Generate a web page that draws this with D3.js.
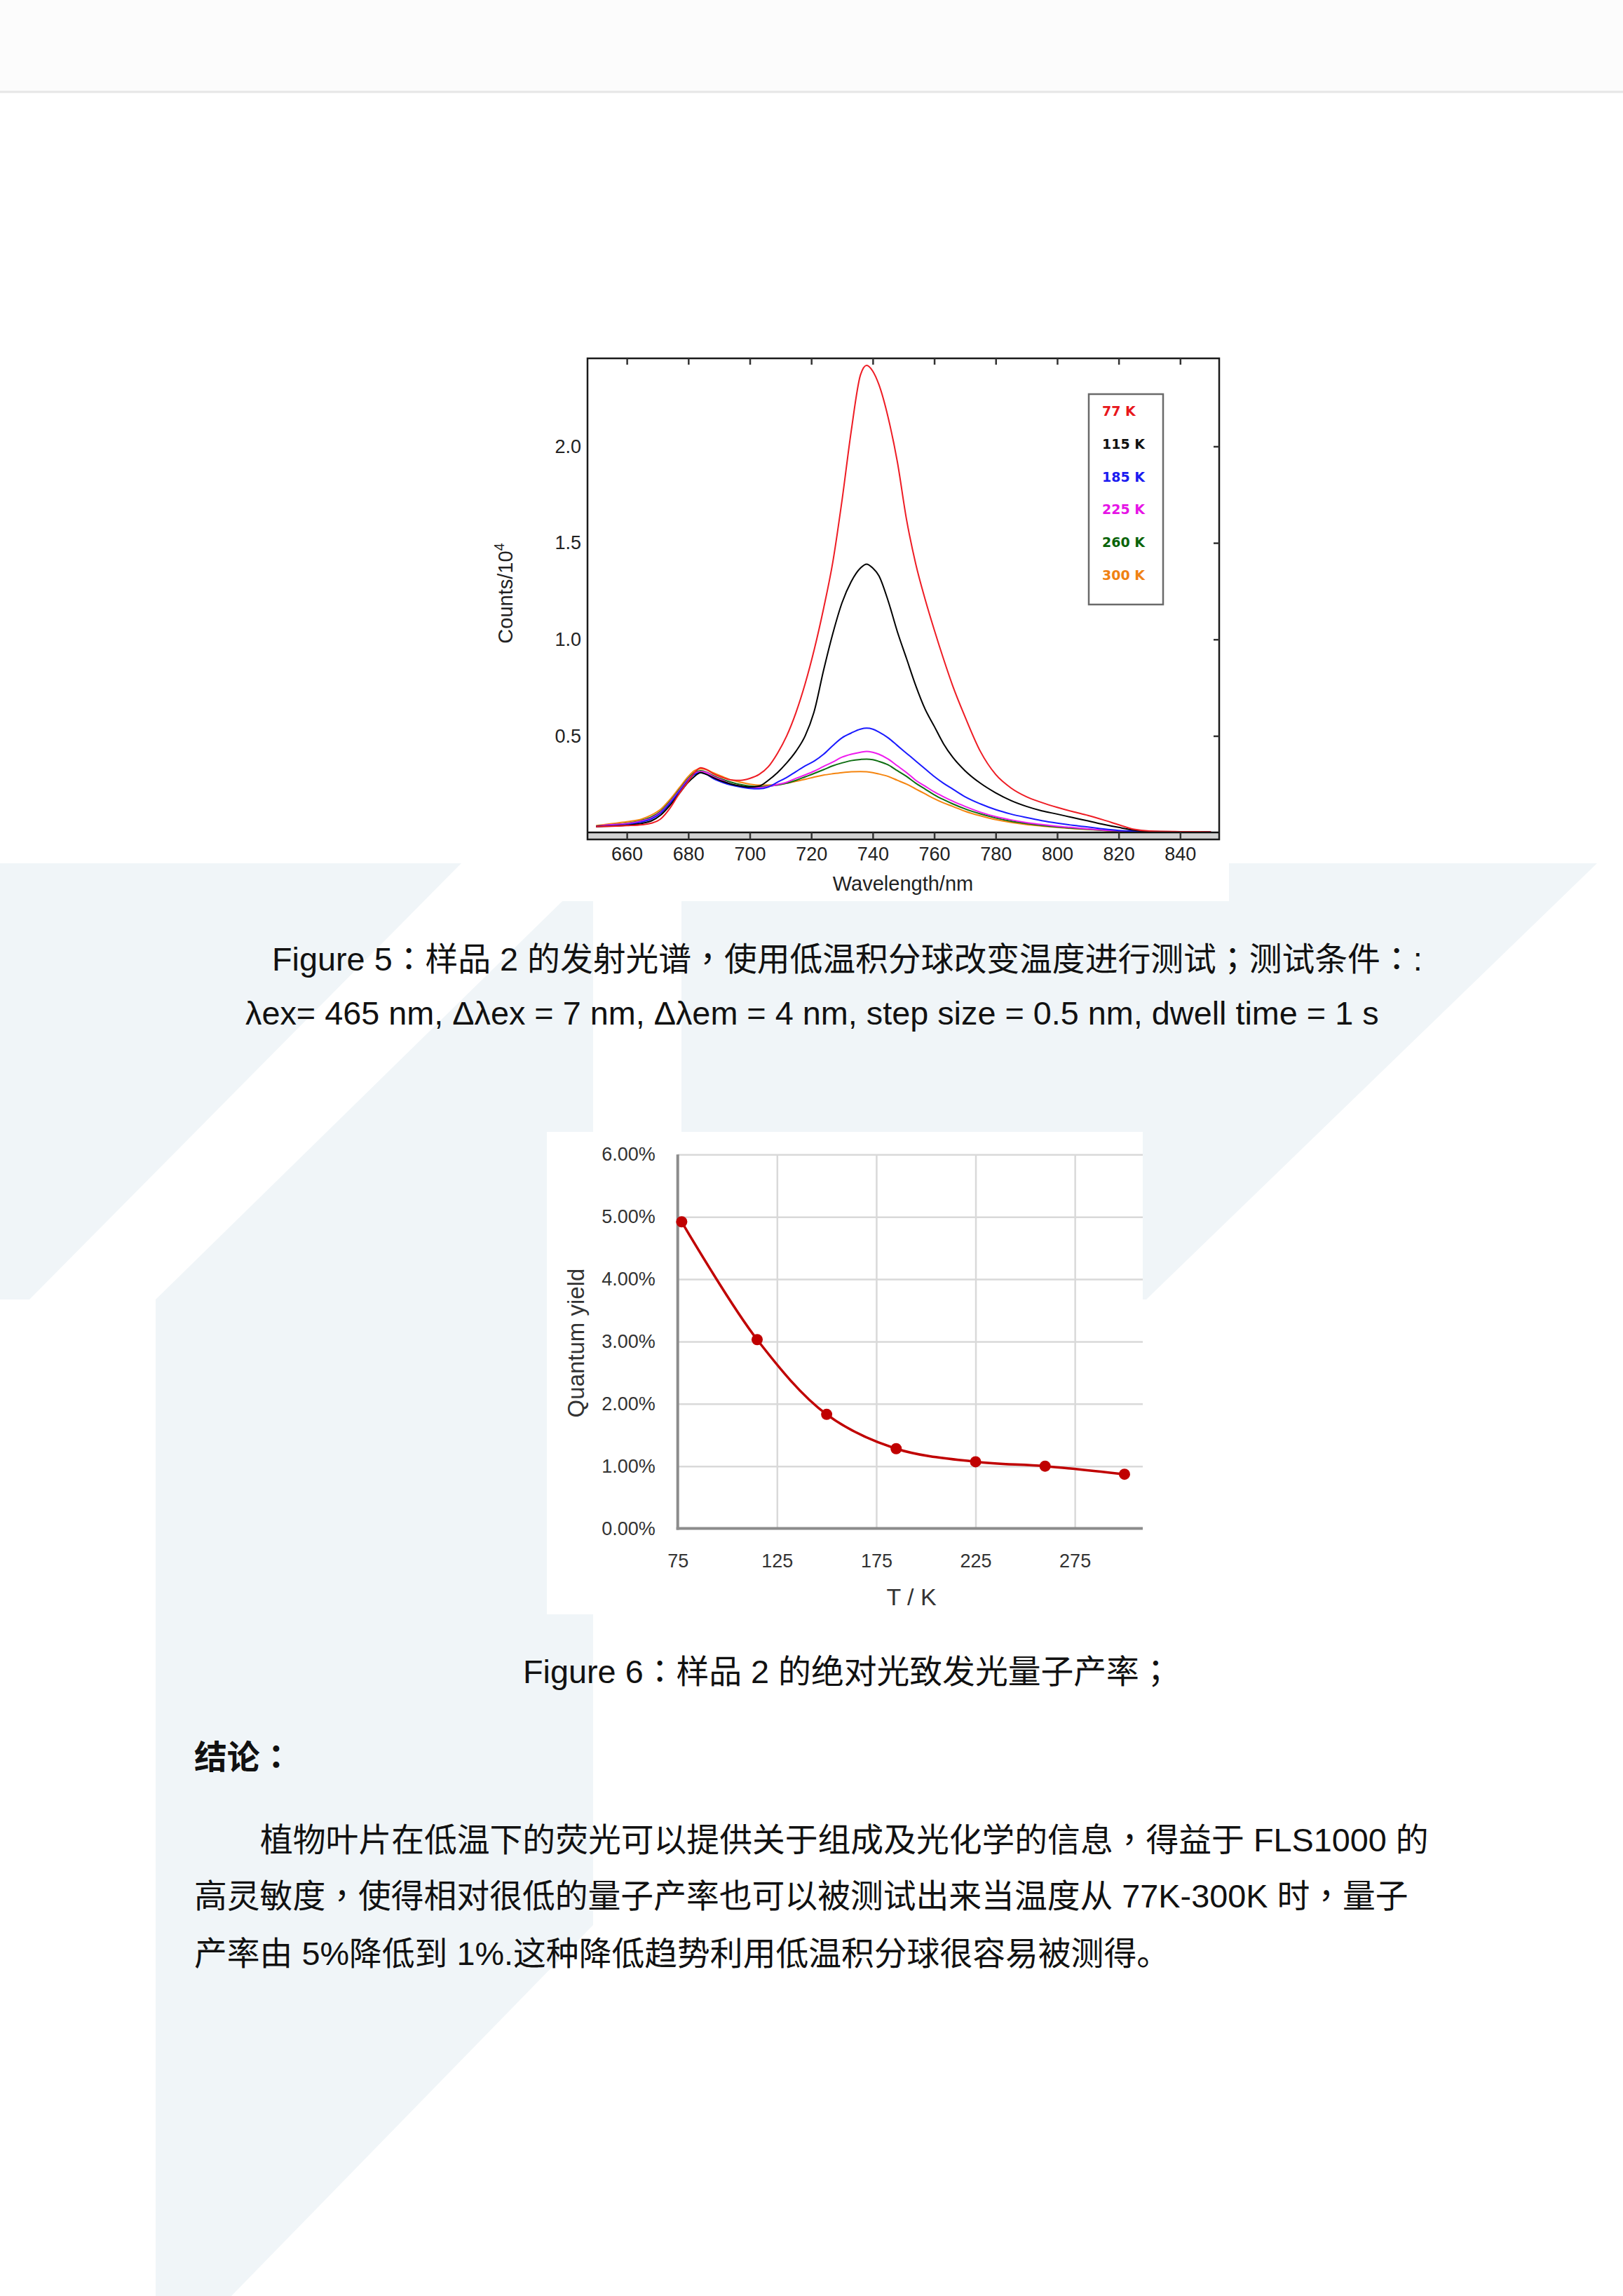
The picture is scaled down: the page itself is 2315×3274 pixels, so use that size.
<!DOCTYPE html>
<meta charset="utf-8">
<style>

body {
  margin: 0;
  background: #fff;
}

text {
  font-family: "Liberation Sans", Arial, "Noto Sans CJK SC", sans-serif;
}

.spectrum-line {
  fill: none;
  stroke-width: 2;
  stroke-linejoin: round;
}

.caption {
  font-size: 46.8px;
  fill: #111;
}

.punct {
  font-family: "Noto Sans CJK TC", "Noto Sans CJK SC", sans-serif;
}

</style>
<body>
</body>
<script src="https://d3js.org/d3.v7.min.js"></script>
<script>

// emission spectra, counts / 10^4
var wavelengths = [650, 655, 660, 665, 668, 671, 674, 677, 680, 682,
                   684, 686, 688, 691, 694, 697, 700, 703, 706, 709,
                   712, 715, 718, 721, 724, 727, 730, 733, 736, 738,
                   740, 742, 745, 748, 751, 754, 757, 760, 763, 766,
                   770, 775, 780, 785, 790, 795, 800, 805, 810, 815,
                   820, 825, 830, 840, 850];

var counts77 = [.03, .032, .035, .04, .048, .07, .125, .2, .265, .31,
                .335, .325, .305, .285, .272, .27, .28, .3, .34, .41,
                .5, .62, .77, .95, 1.16, 1.4, 1.72, 2.08, 2.37, 2.42,
                2.39, 2.32, 2.15, 1.92, 1.62, 1.39, 1.21, 1.05, .9, .76,
                .6, .42, .3, .23, .185, .155, .13, .108, .088, .065,
                .04, .016, .007, .004, .003];

var counts115 = [.03, .033, .037, .047, .06, .09, .14, .2, .26, .29,
                 .31, .3, .285, .265, .25, .24, .235, .24, .27, .31,
                 .36, .42, .5, .63, .84, 1.03, 1.19, 1.3, 1.37, 1.39,
                 1.37, 1.33, 1.2, 1.04, .9, .76, .64, .55, .46, .39,
                 .32, .255, .205, .165, .135, .112, .095, .077, .06, .042,
                 .026, .012, .005, .003, .002];

var counts185 = [.03, .035, .04, .055, .07, .1, .15, .21, .27, .3,
                 .31, .3, .28, .26, .245, .235, .228, .226, .235, .26,
                 .285, .315, .345, .37, .405, .45, .49, .515, .535, .54,
                 .535, .52, .49, .45, .41, .37, .33, .29, .255, .225,
                 .185, .148, .118, .095, .077, .061, .048, .037, .028, .018,
                 .01, .006, .004, .003, .002];

var counts225 = [.032, .04, .045, .06, .075, .105, .155, .215, .275, .305,
                 .315, .31, .29, .27, .25, .24, .232, .232, .238, .248,
                 .26, .28, .298, .318, .342, .365, .39, .405, .415, .42,
                 .415, .405, .38, .345, .31, .27, .24, .21, .185, .162,
                 .135, .105, .082, .065, .051, .041, .032, .025, .018, .012,
                 .008, .005, .004, .003, .002];

var counts260 = [.033, .04, .047, .063, .08, .11, .16, .22, .28, .31,
                 .32, .312, .295, .275, .26, .248, .24, .237, .24, .245,
                 .255, .27, .288, .306, .325, .345, .36, .372, .378, .38,
                 .377, .368, .35, .32, .29, .255, .225, .195, .17, .148,
                 .122, .096, .075, .058, .046, .036, .028, .022, .016, .011,
                 .007, .005, .004, .003, .002];

var counts300 = [.035, .045, .055, .07, .09, .12, .17, .23, .29, .32,
                 .33, .325, .31, .29, .272, .26, .25, .245, .245, .248,
                 .255, .265, .275, .287, .297, .304, .31, .314, .315, .314,
                 .31, .303, .29, .27, .25, .225, .2, .175, .153, .135,
                 .11, .086, .066, .052, .041, .033, .026, .02, .015, .01,
                 .007, .005, .004, .003, .002];

var seriesLabels = ["77 K", "115 K", "185 K", "225 K", "260 K", "300 K"];
var spectrumTicksX = [660, 680, 700, 720, 740, 760, 780, 800, 820, 840];
var spectrumTicksY = [0.5, 1.0, 1.5, 2.0];

// quantum yield vs temperature, %
var yieldTemps = [77, 115, 150, 185, 225, 260, 300];
var yieldValues = [4.92, 3.03, 1.83, 1.28, 1.07, 1.00, 0.87];
var yieldTicksX = [75, 125, 175, 225, 275];
var yieldTicksY = [0, 1, 2, 3, 4, 5, 6];

var seriesColors = ["#ee1c24", "#000000", "#1a1aff", "#ee1cee", "#0e6e12", "#f5850f"];
var legendColors = ["#e8161b", "#111111", "#1c1cf0", "#e614e6", "#0a640a", "#f08214"];

var width = 2315,
    height = 3274;

var svg = d3.select("body").append("svg")
    .attr("width", width)
    .attr("height", height);

// page background and watermark
svg.append("rect").attr("width", width).attr("height", height).attr("fill", "#fff");
svg.append("rect").attr("width", width).attr("height", 131).attr("fill", "#fcfcfc");
svg.append("line")
    .attr("x1", 0).attr("x2", width).attr("y1", 131).attr("y2", 131)
    .attr("stroke", "#e6e6e6").attr("stroke-width", 3);

var shapes = [
  [[0, 1231], [658, 1231], [42, 1853], [0, 1853]],
  [[846, 1242], [846, 2745], [330, 3274], [222, 3274], [222, 1853]],
  [[972, 1231], [2278, 1231], [1635, 1853], [972, 1853]]
];
svg.selectAll("polygon.mark")
    .data(shapes)
  .enter().append("polygon")
    .attr("points", function(d) { return d.join(" "); })
    .attr("fill", "#f0f5f8");

// white boxes behind the two figures
svg.append("rect").attr("x", 690).attr("y", 470).attr("width", 1063).attr("height", 815).attr("fill", "#fff");
svg.append("rect").attr("x", 780).attr("y", 1614).attr("width", 850).attr("height", 688).attr("fill", "#fff");

/*
 * Figure 5: emission spectra
 */
var x1 = d3.scaleLinear().domain([647.2, 852.7]).range([838, 1739]);
var y1 = d3.scaleLinear().domain([0, 2.456]).range([1187, 511]);

var g1 = svg.append("g");

var seriesValues = [counts77, counts115, counts185, counts225, counts260, counts300];

var line1 = d3.line()
    .x(function(d) { return x1(d[0]); })
    .y(function(d) { return y1(d[1]); })
    .curve(d3.curveMonotoneX);

// draw warm last so 77 K sits on top
var order = [5, 4, 3, 2, 1, 0];
g1.selectAll("path.spectrum-line")
    .data(order)
  .enter().append("path")
    .classed("spectrum-line", true)
    .attr("stroke", function(i) { return seriesColors[i]; })
    .attr("d", function(i) {
      return line1(wavelengths.map(function(w, k) { return [w, seriesValues[i][k]]; }));
    });

// band under the zero line
g1.append("rect")
    .attr("x", 838).attr("y", 1187).attr("width", 901).attr("height", 10)
    .attr("fill", "#d2d2d2");
g1.append("line")
    .attr("x1", 838).attr("x2", 1739).attr("y1", 1187).attr("y2", 1187)
    .attr("stroke", "#111").attr("stroke-width", 2.5);

g1.append("rect")
    .attr("x", 838).attr("y", 511).attr("width", 901).attr("height", 686)
    .attr("fill", "none").attr("stroke", "#1a1a1a").attr("stroke-width", 2.5);

var xAxis1 = g1.append("g")
    .attr("transform", "translate(0,1187)")
    .call(d3.axisBottom(x1).tickValues(spectrumTicksX).tickSize(10).tickPadding(11));
xAxis1.select(".domain").remove();
xAxis1.selectAll("line").attr("stroke", "#333").attr("stroke-width", 2.5);
xAxis1.selectAll("text").attr("font-size", 27).attr("fill", "#222")
    .style("font-family", "'Liberation Sans', Arial, sans-serif");

var topAxis1 = g1.append("g")
    .attr("transform", "translate(0,511)")
    .call(d3.axisTop(x1).tickValues(spectrumTicksX).tickSize(-9).tickFormat(""));
topAxis1.select(".domain").remove();
topAxis1.selectAll("line").attr("stroke", "#333").attr("stroke-width", 2.5);

var yAxis1 = g1.append("g")
    .attr("transform", "translate(838,0)")
    .call(d3.axisLeft(y1).tickValues(spectrumTicksY).tickSize(0).tickPadding(9)
      .tickFormat(d3.format(".1f")));
yAxis1.select(".domain").remove();
yAxis1.selectAll("text").attr("font-size", 27).attr("fill", "#222")
    .style("font-family", "'Liberation Sans', Arial, sans-serif");

var rightAxis1 = g1.append("g")
    .attr("transform", "translate(1739,0)")
    .call(d3.axisRight(y1).tickValues(spectrumTicksY).tickSize(-8).tickFormat(""));
rightAxis1.select(".domain").remove();
rightAxis1.selectAll("line").attr("stroke", "#333").attr("stroke-width", 2.5);

g1.append("text")
    .attr("x", 1288).attr("y", 1270)
    .attr("text-anchor", "middle")
    .attr("font-size", 29).attr("fill", "#222")
    .text("Wavelength/nm");

var ylab = g1.append("text")
    .attr("transform", "translate(731,846) rotate(-90)")
    .attr("text-anchor", "middle")
    .attr("font-size", 29).attr("fill", "#222");
ylab.append("tspan").text("Counts/10");
ylab.append("tspan").attr("font-size", 20).attr("dy", -12).text("4");

// legend
g1.append("rect")
    .attr("x", 1553).attr("y", 562).attr("width", 106).attr("height", 300)
    .attr("fill", "#fff").attr("stroke", "#6a6a6a").attr("stroke-width", 2.5);

g1.selectAll("text.legend")
    .data(seriesLabels)
  .enter().append("text")
    .attr("x", 1572)
    .attr("y", function(d, i) { return 593 + i * 46.8; })
    .attr("fill", function(d, i) { return legendColors[i]; })
    .style("font-family", "'DejaVu Sans', Verdana, sans-serif")
    .attr("font-weight", "bold")
    .attr("font-size", 19)
    .text(function(d) { return d; });

/*
 * Figure 6: quantum yield
 */
var x2 = d3.scaleLinear().domain([75, 309.2]).range([966.7, 1630]);
var y2 = d3.scaleLinear().domain([0, 6]).range([2179.5, 1646.3]);

var g2 = svg.append("g");

var hGrid = g2.append("g")
    .attr("transform", "translate(966.7,0)")
    .call(d3.axisLeft(y2).tickValues(yieldTicksY.slice(1)).tickSize(-(1630 - 966.7)).tickFormat(""));
hGrid.select(".domain").remove();
hGrid.selectAll("line").attr("stroke", "#d9d9d9").attr("stroke-width", 2.5);

var vGrid = g2.append("g")
    .attr("transform", "translate(0,2179.5)")
    .call(d3.axisBottom(x2).tickValues(yieldTicksX.slice(1)).tickSize(-(2179.5 - 1646.3)).tickFormat(""));
vGrid.select(".domain").remove();
vGrid.selectAll("line").attr("stroke", "#d9d9d9").attr("stroke-width", 2.5);

g2.append("line")
    .attr("x1", 966.7).attr("x2", 966.7).attr("y1", 1646.3).attr("y2", 2181.5)
    .attr("stroke", "#8c8c8c").attr("stroke-width", 4);
g2.append("line")
    .attr("x1", 964.7).attr("x2", 1630).attr("y1", 2179.5).attr("y2", 2179.5)
    .attr("stroke", "#8c8c8c").attr("stroke-width", 4);

var yAxis2 = g2.append("g")
    .attr("transform", "translate(966.7,0)")
    .call(d3.axisLeft(y2).tickValues(yieldTicksY).tickSize(0).tickPadding(32)
      .tickFormat(function(d) { return d.toFixed(2) + "%"; }));
yAxis2.select(".domain").remove();
yAxis2.selectAll("text").attr("font-size", 27).attr("fill", "#333")
    .style("font-family", "'Liberation Sans', Arial, sans-serif");

var xAxis2 = g2.append("g")
    .attr("transform", "translate(0,2179.5)")
    .call(d3.axisBottom(x2).tickValues(yieldTicksX).tickSize(0).tickPadding(36));
xAxis2.select(".domain").remove();
xAxis2.selectAll("text").attr("font-size", 27).attr("fill", "#333")
    .style("font-family", "'Liberation Sans', Arial, sans-serif");

var line2 = d3.line()
    .x(function(d) { return x2(d[0]); })
    .y(function(d) { return y2(d[1]); })
    .curve(d3.curveCatmullRom.alpha(0.5));

var yieldPoints = yieldTemps.map(function(t, i) { return [t, yieldValues[i]]; });

g2.append("path")
    .attr("d", line2(yieldPoints))
    .attr("fill", "none")
    .attr("stroke", "#c00000")
    .attr("stroke-width", 3.5);

g2.selectAll("circle")
    .data(yieldPoints)
  .enter().append("circle")
    .attr("cx", function(d) { return x2(d[0]); })
    .attr("cy", function(d) { return y2(d[1]); })
    .attr("r", 8)
    .attr("fill", "#c00000");

g2.append("text")
    .attr("transform", "translate(833,1915) rotate(-90)")
    .attr("text-anchor", "middle")
    .attr("font-size", 33).attr("fill", "#333")
    .text("Quantum yield");

g2.append("text")
    .attr("x", 1300).attr("y", 2289)
    .attr("text-anchor", "middle")
    .attr("font-size", 34).attr("fill", "#333")
    .text("T / K");

/*
 * captions and body text
 */
var lines = [
  {x: 388, y: 1384, t: "Figure 5：样品 2 的发射光谱，使用低温积分球改变温度进行测试；测试条件：:"},
  {x: 350, y: 1461, t: "λex= 465 nm, Δλex = 7 nm, Δλem = 4 nm, step size = 0.5 nm, dwell time = 1 s"},
  {x: 746, y: 2400, t: "Figure 6：样品 2 的绝对光致发光量子产率；"},
  {x: 277, y: 2522, t: "结论：", bold: true},
  {x: 371, y: 2640, t: "植物叶片在低温下的荧光可以提供关于组成及光化学的信息，得益于 FLS1000 的"},
  {x: 277, y: 2720, t: "高灵敏度，使得相对很低的量子产率也可以被测试出来当温度从 77K-300K 时，量子"},
  {x: 277, y: 2802, t: "产率由 5%降低到 1%.这种降低趋势利用低温积分球很容易被测得。"}
];

// full-width punctuation is centred in the original, so it gets its own run
function runs(s) {
  return s.split(/([：，；])/).filter(function(r) { return r.length > 0; });
}

var captions = svg.selectAll("text.caption")
    .data(lines)
  .enter().append("text")
    .classed("caption", true)
    .attr("x", function(d) { return d.x; })
    .attr("y", function(d) { return d.y; })
    .attr("font-weight", function(d) { return d.bold ? "bold" : null; });

captions.selectAll("tspan")
    .data(function(d) { return runs(d.t); })
  .enter().append("tspan")
    .classed("punct", function(r) { return /^[：，；]$/.test(r); })
    .text(function(r) { return r; });

</script>
